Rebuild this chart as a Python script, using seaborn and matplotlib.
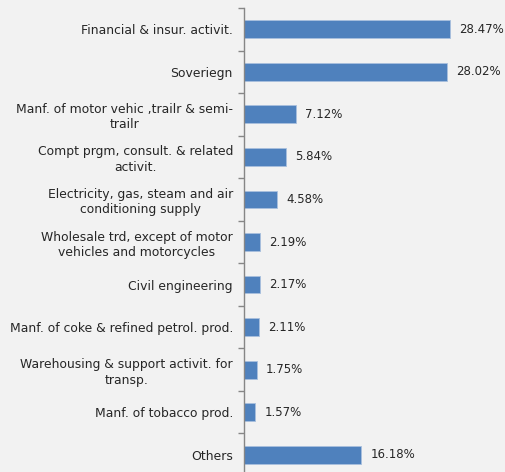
import matplotlib
matplotlib.use("Agg")
import matplotlib.pyplot as plt
import seaborn as sns
import pandas as pd

sectors = [
    "Financial & insur. activit.",
    "Soveriegn",
    "Manf. of motor vehic ,trailr & semi-\ntrailr",
    "Compt prgm, consult. & related\nactivit.",
    "Electricity, gas, steam and air\nconditioning supply",
    "Wholesale trd, except of motor\nvehicles and motorcycles",
    "Civil engineering",
    "Manf. of coke & refined petrol. prod.",
    "Warehousing & support activit. for\ntransp.",
    "Manf. of tobacco prod.",
    "Others",
]
shares = [28.47, 28.02, 7.12, 5.84, 4.58, 2.19, 2.17, 2.11, 1.75, 1.57, 16.18]

df = pd.DataFrame({"sector": sectors, "share": shares})

sns.set_style("white")
plt.rcParams["font.family"] = ["DejaVu Sans"]

bg = "#f2f2f2"
text_color = "#262626"
bar_color = "#4f81bd"

fig = plt.figure(figsize=(5.06, 4.72), dpi=100, facecolor=bg)
ax = fig.add_axes([244 / 506, -4 / 472, 262 / 506, 468 / 472])
ax.set_facecolor(bg)

sns.barplot(data=df, x="share", y="sector", orient="h", color=bar_color,
            saturation=1, width=0.42, edgecolor="#a9c0de", linewidth=0.6, ax=ax)

ax.set_xlim(0, 262 / 7.24)
ax.set_ylim(len(sectors) - 0.5, -0.5)
ax.set_xlabel("")
ax.set_ylabel("")
ax.set_xticks([])

for i, v in enumerate(shares):
    ax.text(v + 1.25, i, f"{v:.2f}%", va="center", ha="left",
            fontsize=8.5, color=text_color)

ax.set_yticks(range(len(sectors)))
ax.set_yticklabels(sectors, fontsize=8.9, color=text_color,
                   multialignment="center", linespacing=1.25)
ax.tick_params(axis="y", which="major", left=True, length=0, pad=8)
# boundary ticks between categories
ax.set_yticks([i - 0.5 for i in range(len(sectors) + 1)], minor=True)
ax.tick_params(axis="y", which="minor", left=True, length=4,
               color="#868686", width=1)

for side in ["top", "right", "bottom"]:
    ax.spines[side].set_visible(False)
ax.spines["left"].set_color("#868686")
ax.spines["left"].set_linewidth(1)

fig.savefig("out.png", dpi=100, facecolor=bg)
